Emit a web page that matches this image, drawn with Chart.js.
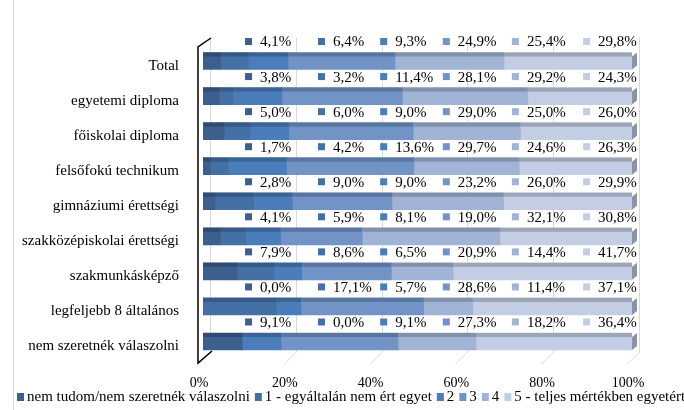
<!DOCTYPE html>
<html>
<head>
<meta charset="utf-8">
<script src="https://cdn.jsdelivr.net/npm/chart.js@4/dist/chart.umd.min.js"></script>
<style>
  html, body { margin: 0; padding: 0; background: #fff; }
  #wrap { width: 684px; height: 410px; }
</style>
</head>
<body>
<div id="wrap"><canvas id="chart" width="684" height="410"></canvas></div>
<script>
// kategóriák és sorozatok
const categories = ['Total', 'egyetemi diploma', 'főiskolai diploma', 'felsőfokú technikum',
    'gimnáziumi érettségi', 'szakközépiskolai érettségi', 'szakmunkásképző',
    'legfeljebb 8 általános', 'nem szeretnék válaszolni'];
const seriesNames = ['nem tudom/nem szeretnék válaszolni', '1 - egyáltalán nem ért egyet',
    '2', '3', '4', '5 - teljes mértékben egyetért'];
const nemTudom   = [4.1, 3.8, 5.0, 1.7, 2.8, 4.1, 7.9, 0.0, 9.1];
const egyaltalan = [6.4, 3.2, 6.0, 4.2, 9.0, 5.9, 8.6, 17.1, 0.0];
const ketto      = [9.3, 11.4, 9.0, 13.6, 9.0, 8.1, 6.5, 5.7, 9.1];
const harom      = [24.9, 28.1, 29.0, 29.7, 23.2, 19.0, 20.9, 28.6, 27.3];
const negy       = [25.4, 29.2, 25.0, 24.6, 26.0, 32.1, 14.4, 11.4, 18.2];
const ot         = [29.8, 24.3, 26.0, 26.3, 29.9, 30.8, 41.7, 37.1, 36.4];
const xTicks     = [0, 20, 40, 60, 80, 100];

const seriesValues = [nemTudom, egyaltalan, ketto, harom, negy, ot];
const colors = ['#3C5F8D', '#4470A6', '#4A7DBA', '#7193C6', '#A1B4D6', '#C3CDE3'];
// címkék helye a vízszintes tengelyen (%)
const labelSlots = [9.8, 26.8, 41.3, 55.9, 72.0, 88.6];

const SERIF = '"Liberation Serif", "Times New Roman", serif';

function darken(hex, f) {
    const n = parseInt(hex.slice(1), 16);
    const r = Math.round(((n >> 16) & 255) * f);
    const g = Math.round(((n >> 8) & 255) * f);
    const b = Math.round((n & 255) * f);
    return `rgb(${r},${g},${b})`;
}

const fmt = v => v.toFixed(1).replace('.', ',') + '%';

// 100%-ra normalizált sorok
const rowSums = categories.map((_, j) => seriesValues.reduce((s, arr) => s + arr[j], 0));

const datasets = seriesValues.map((vals, i) => ({
    label: seriesNames[i],
    data: vals.map((v, j) => v / rowSums[j] * 100),
    raw: vals,
    backgroundColor: colors[i],
    borderWidth: 0,
    barThickness: 17,
}));

const chart3d = {
    id: 'chart3d',
    beforeDatasetsDraw(chart) {
        const { ctx, chartArea: a, scales: { x } } = chart;
        ctx.save();
        // rácsvonalak, hátsó fal
        ctx.strokeStyle = '#D9D9D9';
        ctx.lineWidth = 1;
        xTicks.forEach(v => {
            const xf = Math.round(x.getPixelForValue(v)) + 0.5;
            ctx.beginPath();
            ctx.moveTo(xf + 7, a.top - 6);
            ctx.lineTo(xf + 7, a.bottom - 7);
            ctx.lineTo(xf - 5, a.bottom + 5);
            ctx.stroke();
        });
        // bal oldali fal
        const x0 = x.getPixelForValue(0);
        ctx.strokeStyle = '#000';
        ctx.lineWidth = 1.5;
        ctx.beginPath();
        ctx.moveTo(x0 + 8, a.top - 5.5);
        ctx.lineTo(x0 - 5, a.top + 3.5);
        ctx.lineTo(x0 - 5, a.bottom + 4);
        ctx.lineTo(x0 + 9, a.bottom - 8);
        ctx.stroke();
        ctx.restore();
    },
    afterDatasetsDraw(chart) {
        const { ctx, scales: { x } } = chart;
        ctx.save();
        chart.data.datasets.forEach((ds, i) => {
            const meta = chart.getDatasetMeta(i);
            meta.data.forEach((el, j) => {
                const left = Math.min(el.base, el.x);
                const right = Math.max(el.base, el.x);
                const top = el.y - el.height / 2;
                const bottom = el.y + el.height / 2;
                if (right - left > 0.2) {
                    ctx.fillStyle = darken(colors[i], 0.8);
                    ctx.fillRect(left, top, right - left, 4);
                }
                if (i === chart.data.datasets.length - 1) {
                    ctx.fillStyle = '#8A94A6';
                    ctx.beginPath();
                    ctx.moveTo(right, top + 4);
                    ctx.lineTo(right + 5, top);
                    ctx.lineTo(right + 5, bottom - 4);
                    ctx.lineTo(right, bottom);
                    ctx.closePath();
                    ctx.fill();
                }
                // adatfelirat jelölővel
                const mx = x.getPixelForValue(labelSlots[i]);
                const cy = el.y - 18.5;
                ctx.fillStyle = colors[i];
                ctx.fillRect(mx, cy - 4.5, 7, 7);
                ctx.fillStyle = '#000';
                ctx.font = '15px ' + SERIF;
                ctx.textBaseline = 'middle';
                ctx.textAlign = 'left';
                ctx.fillText(fmt(ds.raw[j]), mx + 15, cy);
            });
        });
        ctx.restore();
    },
    afterDraw(chart) {
        const { ctx } = chart;
        ctx.save();
        // keret bal oldalt
        ctx.strokeStyle = '#D9D9D9';
        ctx.lineWidth = 1;
        ctx.beginPath();
        ctx.moveTo(13.5, 0);
        ctx.lineTo(13.5, 410);
        ctx.stroke();
        // jelmagyarázat
        ctx.font = '15px ' + SERIF;
        ctx.textBaseline = 'middle';
        ctx.textAlign = 'left';
        let lx = 17;
        const cy = 397;
        chart.data.datasets.forEach((ds, i) => {
            ctx.fillStyle = colors[i];
            ctx.fillRect(lx, cy - 4, 7, 8);
            lx += 10;
            ctx.fillStyle = '#000';
            ctx.fillText(ds.label, lx, cy);
            lx += ctx.measureText(ds.label).width + 5;
        });
        ctx.restore();
    }
};

new Chart(document.getElementById('chart').getContext('2d'), {
    type: 'bar',
    data: { labels: categories, datasets },
    options: {
        indexAxis: 'y',
        responsive: false,
        animation: false,
        layout: { padding: { left: 0, right: 52, top: 43.5, bottom: 13 } },
        plugins: { legend: { display: false }, tooltip: { enabled: false } },
        scales: {
            x: {
                stacked: true,
                min: 0,
                max: 100,
                afterBuildTicks: s => { s.ticks = xTicks.map(v => ({ value: v })); },
                afterFit: s => { s.height = 38; },
                grid: { display: false },
                border: { display: false },
                ticks: {
                    callback: v => v + '%',
                    color: '#000',
                    font: { family: SERIF, size: 14 },
                    padding: 8,
                    labelOffset: -4,
                    maxRotation: 0,
                }
            },
            y: {
                stacked: true,
                afterFit: s => { s.width = 203; },
                grid: { display: false },
                border: { display: false },
                ticks: {
                    color: '#000',
                    font: { family: SERIF, size: 15 },
                    padding: 16,
                    labelOffset: 5,
                }
            }
        }
    },
    plugins: [chart3d]
});
</script>
</body>
</html>
